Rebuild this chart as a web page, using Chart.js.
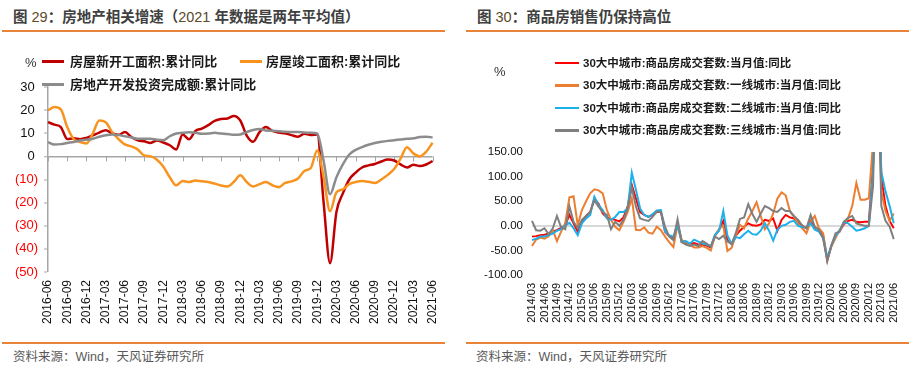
<!DOCTYPE html>
<html>
<head>
<meta charset="utf-8">
<script src="https://cdn.jsdelivr.net/npm/chart.js@4/dist/chart.umd.min.js"></script>
<style>
body{margin:0;width:920px;height:367px;background:#fff;position:relative;overflow:hidden;font-family:"Liberation Sans",Arial,"Noto Sans CJK SC",sans-serif;}
.title{position:absolute;top:8px;font-size:14.5px;line-height:18px;font-weight:bold;color:#404040;white-space:nowrap;}
.title .n{font-weight:normal;color:#5c4a2a;}
.rule{position:absolute;height:1.5px;background:#E8833A;}
.src{position:absolute;top:349px;font-size:12.5px;line-height:16px;color:#595959;white-space:nowrap;}
.lt{position:absolute;font-weight:bold;color:#1a1a1a;white-space:nowrap;line-height:16px;}
.ln{position:absolute;height:2.5px;}
.pct{position:absolute;font-size:13px;line-height:16px;color:#333;}
canvas{position:absolute;}
</style>
</head>
<body>
<div class="title" style="left:13px">图 <span class="n">29</span>：房地产相关增速（<span class="n">2021</span> 年数据是两年平均值）</div>
<div class="title" style="left:477px">图 <span class="n">30</span>：商品房销售仍保持高位</div>
<div class="rule" style="left:2px;top:30px;width:443px"></div>
<div class="rule" style="left:466px;top:30px;width:443px"></div>
<div class="rule" style="left:2px;top:342px;width:443px"></div>
<div class="rule" style="left:466px;top:342px;width:443px"></div>
<div class="src" style="left:13px">资料来源：Wind，天风证券研究所</div>
<div class="src" style="left:476px">资料来源：Wind，天风证券研究所</div>

<canvas id="left" width="455" height="300" style="left:0;top:40px"></canvas>
<canvas id="right" width="455" height="300" style="left:460px;top:40px"></canvas>

<div class="pct" style="left:25px;top:55px">%</div>
<div class="ln" style="left:42px;top:60px;width:22px;background:#C00000"></div>
<div class="lt" style="left:70px;top:54px;font-size:13px">房屋新开工面积:累计同比</div>
<div class="ln" style="left:240px;top:60px;width:22px;background:#F7931E"></div>
<div class="lt" style="left:266px;top:54px;font-size:13px">房屋竣工面积:累计同比</div>
<div class="ln" style="left:42px;top:83px;width:22px;background:#8C8C8C"></div>
<div class="lt" style="left:70px;top:77px;font-size:13px">房地产开发投资完成额:累计同比</div>

<div class="pct" style="left:494px;top:64px">%</div>
<div class="ln" style="left:555px;top:61.5px;width:24px;background:#FF0000"></div>
<div class="lt" style="left:583px;top:54.5px;font-size:11.5px">30大中城市:商品房成交套数:当月值:同比</div>
<div class="ln" style="left:555px;top:84px;width:24px;background:#ED7D31"></div>
<div class="lt" style="left:583px;top:77px;font-size:11.5px">30大中城市:商品房成交套数:一线城市:当月值:同比</div>
<div class="ln" style="left:555px;top:106.5px;width:24px;background:#1CB0EC"></div>
<div class="lt" style="left:583px;top:99.5px;font-size:11.5px">30大中城市:商品房成交套数:二线城市:当月值:同比</div>
<div class="ln" style="left:555px;top:129px;width:24px;background:#7F7F7F"></div>
<div class="lt" style="left:583px;top:122px;font-size:11.5px">30大中城市:商品房成交套数:三线城市:当月值:同比</div>

<script>
// ---- left chart data (2016-06 .. 2021-06, monthly, %) ----
const leftMonths = [];
for (let y = 2016; y <= 2021; y++) {
    for (let m = 1; m <= 12; m++) {
        if ((y === 2016 && m < 6) || (y === 2021 && m > 6)) continue;
        leftMonths.push(y + '-' + String(m).padStart(2, '0'));
    }
}
const newStartYoY = [14.8,13.7,12.7,7.5,7.8,7.4,8.0,9.1,10.3,11.3, 10.0,9.3,10.5,8.4,6.9,6.5,5.8,6.9,6.0,4.8,
    3.0,9.5,7.4,11.0,12.0,13.5,15.4,16.2,16.4,17.5, 15.5,9.0,6.3,10.5,12.7,11.0,10.3,10.0,9.2,8.5,
    9.8,9.2,9.5,-20,-46.2,-24,-16,-10,-7,-4.8, -3.9,-3.3,-2.2,-1.4,-1.8,-3.5,-4.8,-3.6,-4.2,-3.5, -2.0];
const completedYoY = [19.9,21.3,20.3,12.7,7.5,6.2,5.6,10.0,15.5,14.8, 10.5,7.5,5.2,4.3,3.0,0.4,0.0,-1.5,-4.5,-9.0,
    -12.5,-10.6,-11.1,-10.4,-10.8,-11.1,-11.8,-12.6,-13.0,-11.0, -8.2,-11.1,-13.0,-12.0,-11.1,-12.5,-13.3,-11.5,-10.8,-9.6,
    -6.3,-5.0,2.5,-9.0,-23.7,-15.5,-14.3,-12.0,-11.1,-10.7, -11.0,-11.5,-10.0,-8.0,-5.5,-1.0,4.0,1.3,0.0,2.0, 5.9];
const investYoY = [6.2,5.1,5.3,5.8,6.2,6.9,7.2,7.6,8.5,9.1, 9.5,9.2,8.7,8.2,7.6,7.6,7.6,7.2,7.0,8.7,
    9.9,10.2,10.4,10.2,9.8,9.9,10.2,9.9,9.7,9.3, 9.5,10.5,11.4,11.8,11.2,11.1,10.9,10.6,10.5,10.5,
    10.3,10.2,9.9,-2.0,-16.4,-9.0,-3.5,0.8,2.8,4.0, 5.0,5.8,6.3,6.7,7.0,7.3,7.6,7.8,8.4,8.5, 8.2];

// ---- right chart data (2014/03 .. 2021/06, monthly, %) ----
const rightMonths = [];
for (let y = 2014; y <= 2021; y++) {
    for (let m = 1; m <= 12; m++) {
        if ((y === 2014 && m < 3) || (y === 2021 && m > 6)) continue;
        rightMonths.push(y + '/' + String(m).padStart(2, '0'));
    }
}
const totalYoY = [-22,-21,-19,-18,-16,-12,-9,-4,1,22, 5,-12,8,20,28,55,45,25,17,14,
    12,9,17,39,83,55,28,22,18,22, 28,28,-12,-21,-26,5,-33,-35,-37,-35,
    -38,-39,-40,-44,-20,-8,10,-30,-37,-20, -10,-2,5,1,0,3,12,10,15,-10,
    12,22,17,15,8,0,-5,10,-3,-8, -20,-70,-40,-20,-10,3,10,12,8,7,
    8,8,120,400,100,40,10,-5];
const tier1YoY = [-41,-28,-24,-26,-21,-9,-31,-12,6,58, 60,1,32,50,66,74,72,66,32,12,
    -2,-9,8,28,56,-8,-9,-3,-14,-16, -2,-9,-22,-33,-43,1,-29,-33,-39,-44,
    -44,-41,-45,-50,-20,-6,0,-51,-45,-20, 2,-5,15,30,48,20,-7,5,25,55,
    68,62,30,18,5,-5,-15,8,20,-5, -15,-68,-42,-25,-8,5,15,40,87,53,
    53,56,170,400,70,30,10,25];
const tier2YoY = [-29,-26,-22,-22,-19,-16,-10,-7,1,6, -5,-19,5,15,22,59,42,32,15,12,
    18,28,28,35,108,73,35,22,18,24, 31,32,-12,-19,-22,1,-33,-31,-36,-28,
    -32,-36,-38,-42,-18,-10,30,-20,-37,-23, -25,-17,-10,-17,-18,-10,5,-10,-30,-8,
    0,2,8,10,0,-3,-3,5,-8,-12, -25,-65,-40,-20,-10,8,5,-2,-10,-8,
    -5,0,110,400,110,70,40,5];
const tier3YoY = [10,-9,-10,-5,-17,-5,20,-3,-7,39, 8,-5,12,20,28,52,39,28,22,-7,
    8,0,12,35,78,39,15,12,10,18, 29,28,-2,-22,-29,13,-33,-38,-41,-38,
    -41,-31,-36,-42,-22,-27,-20,-32,-37,-15, 14,17,44,24,8,25,40,36,30,28,
    36,30,30,20,12,0,-5,22,-2,-8, -25,-72,-40,-15,-12,8,16,20,5,2,
    0,0,80,400,40,10,-2,-27];

const FONT = 'Liberation Sans, Arial, sans-serif';

// small ticks hanging under the zero line, one per quarter
const quarterTicks = {
    id: 'quarterTicks',
    beforeDatasetsDraw(chart) {
        const { ctx, scales: { x, y } } = chart;
        const y0 = y.getPixelForValue(0);
        ctx.save();
        ctx.strokeStyle = '#A6A6A6';
        ctx.lineWidth = 1;
        leftMonths.forEach((m, i) => {
            if (i % 3 !== 0) return;
            const px = Math.round(x.getPixelForValue(i)) + 0.5;
            ctx.beginPath();
            ctx.moveTo(px, y0);
            ctx.lineTo(px, y0 + 5);
            ctx.stroke();
        });
        ctx.restore();
    }
};

const lineSet = (label, data, color, width, order, smooth) => ({
    label: label,
    data: data,
    borderColor: color,
    backgroundColor: color,
    borderWidth: width,
    pointRadius: 0,
    fill: false,
    order: order,
    tension: smooth ? 0.4 : 0,
    cubicInterpolationMode: smooth ? 'monotone' : 'default'
});

new Chart(document.getElementById('left'), {
    type: 'line',
    data: {
        labels: leftMonths,
        datasets: [
            lineSet('房屋新开工面积:累计同比', newStartYoY, '#C00000', 2.5, 3, true),
            lineSet('房屋竣工面积:累计同比', completedYoY, '#F7931E', 2.5, 2, true),
            lineSet('房地产开发投资完成额:累计同比', investYoY, '#8C8C8C', 2.5, 1, true)
        ]
    },
    options: {
        responsive: false,
        animation: false,
        events: [],
        layout: { padding: { top: 47, right: 13, left: 0, bottom: 0 } },
        plugins: { legend: { display: false }, tooltip: { enabled: false } },
        scales: {
            x: {
                grid: { display: false, drawTicks: false },
                border: { display: false },
                ticks: {
                    autoSkip: false,
                    maxRotation: 90,
                    minRotation: 90,
                    padding: 8,
                    color: '#111',
                    font: { size: 12, family: FONT },
                    callback: (v, i) => (i % 3 === 0 ? leftMonths[i] : '')
                },
                afterFit: s => { s.height = 68; }
            },
            y: {
                min: -50,
                max: 30,
                ticks: {
                    stepSize: 10,
                    padding: 6,
                    font: { size: 13, family: FONT },
                    color: c => (c.tick.value < 0 ? '#FF0000' : '#111'),
                    callback: v => (v < 0 ? '(' + (-v) + ')' : v + '\u2005')
                },
                grid: {
                    drawTicks: true,
                    tickLength: 4,
                    tickColor: '#A6A6A6',
                    tickWidth: 1,
                    color: c => (c.tick && c.tick.value === 0 ? '#A6A6A6' : 'rgba(0,0,0,0)'),
                    lineWidth: c => (c.tick && c.tick.value === 0 ? 1.5 : 0)
                },
                border: { display: true, color: '#A6A6A6', width: 1.5 },
                afterFit: s => { s.width = 48; }
            }
        }
    },
    plugins: [quarterTicks]
});

new Chart(document.getElementById('right'), {
    type: 'line',
    data: {
        labels: rightMonths,
        datasets: [
            lineSet('30大中城市:商品房成交套数:当月值:同比', totalYoY, '#FF0000', 2, 4, false),
            lineSet('30大中城市:商品房成交套数:一线城市:当月值:同比', tier1YoY, '#ED7D31', 2, 3, false),
            lineSet('30大中城市:商品房成交套数:二线城市:当月值:同比', tier2YoY, '#1CB0EC', 2, 2, false),
            lineSet('30大中城市:商品房成交套数:三线城市:当月值:同比', tier3YoY, '#7F7F7F', 2, 1, false)
        ]
    },
    options: {
        responsive: false,
        animation: false,
        events: [],
        layout: { padding: { top: 112, right: 21, left: 0, bottom: 0 } },
        plugins: { legend: { display: false }, tooltip: { enabled: false } },
        scales: {
            x: {
                grid: { display: false, drawTicks: false },
                border: { display: false },
                ticks: {
                    autoSkip: false,
                    maxRotation: 90,
                    minRotation: 90,
                    padding: 8,
                    color: '#111',
                    font: { size: 11, family: FONT },
                    callback: (v, i) => (i % 3 === 0 ? rightMonths[i] : '')
                },
                afterFit: s => { s.height = 65; }
            },
            y: {
                min: -100,
                max: 150,
                ticks: {
                    stepSize: 50,
                    padding: 9,
                    color: '#111',
                    font: { size: 11.5, family: FONT },
                    callback: v => v.toFixed(2)
                },
                grid: {
                    drawTicks: false,
                    color: c => (c.tick && c.tick.value === 0 ? '#D9D9D9' : 'rgba(0,0,0,0)'),
                    lineWidth: c => (c.tick && c.tick.value === 0 ? 2 : 0)
                },
                border: { display: false },
                afterFit: s => { s.width = 72; }
            }
        }
    }
});
</script>
</body>
</html>
